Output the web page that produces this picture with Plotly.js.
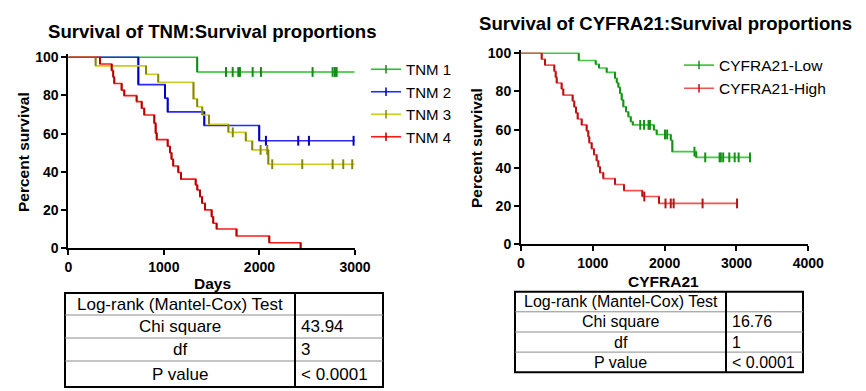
<!DOCTYPE html>
<html>
<head>
<meta charset="utf-8">
<script src="https://cdn.plot.ly/plotly-3.0.1.min.js"></script>
<style>html,body{margin:0;padding:0;background:#fff;}#chart{width:866px;height:391px;}</style>
</head>
<body>
<div id="chart"></div>
<script>
// ---------------- DATA ----------------
// Left chart: Survival of TNM (days, percent survival)
const tnm1Days = [0, 1349];
const tnm1Surv = [100, 92.3];
const tnm1CensorDays = [1650, 1720, 1779, 1796, 1929, 2016, 2556, 2766, 2790, 2808];
const tnm1CensorSurv = [92.3, 92.3, 92.3, 92.3, 92.3, 92.3, 92.3, 92.3, 92.3, 92.3];
const tnm1LastDay = 2995;

const tnm2Days = [0, 733, 1012, 1040, 1423, 1998];
const tnm2Surv = [100, 85.7, 78.6, 71.4, 64.3, 56.3];
const tnm2CensorDays = [2068, 2406, 2518, 2985];
const tnm2CensorSurv = [56.3, 56.3, 56.3, 56.3];
const tnm2LastDay = 2995;

const tnm3Days = [0, 286, 813, 941, 1310, 1349, 1402, 1472, 1675, 1857, 1925, 2093];
const tnm3Surv = [100, 95.5, 91.1, 86.9, 78.2, 74.1, 69.8, 64.9, 60.7, 56.2, 51.5, 44.0];
const tnm3CensorDays = [1721, 2012, 2082, 2134, 2448, 2766, 2877, 2971];
const tnm3CensorSurv = [60.7, 51.5, 51.5, 44.0, 44.0, 44.0, 44.0, 44.0];
const tnm3LastDay = 2995;

const tnm4Days = [0, 332, 454, 470, 481, 558, 586, 715, 768, 795, 900, 914, 925, 1040, 1064, 1080, 1098, 1151, 1179, 1333, 1350, 1378, 1400, 1430, 1500, 1517, 1552, 1760, 2103, 2431];
const tnm4Surv = [100, 96.5, 93.1, 89.7, 86.3, 82.8, 79.9, 76.8, 73.3, 69.8, 65.5, 60.3, 56.9, 53.4, 50.0, 46.6, 43.1, 39.7, 36.2, 33.1, 30.5, 27.0, 23.6, 20.1, 16.5, 13.1, 10.1, 6.4, 2.9, 0];
const tnm4CensorDays = [];
const tnm4CensorSurv = [];
const tnm4LastDay = 2431;

// Right chart: Survival of CYFRA21
const lowDays = [0, 804, 1040, 1086, 1193, 1309, 1333, 1356, 1379, 1402, 1425, 1462, 1495, 1528, 1556, 1850, 1889, 2085, 2107, 2440];
const lowSurv = [100, 96.2, 94.2, 92.3, 90.0, 86.9, 84.6, 82.2, 79.0, 75.6, 72.0, 69.4, 66.8, 64.2, 62.5, 59.8, 57.5, 54.5, 48.5, 45.5];
const lowCensorDays = [1660, 1713, 1776, 1795, 2005, 2035, 2415, 2565, 2765, 2782, 2815, 2900, 2975, 3030, 3188];
const lowCensorSurv = [62.5, 62.5, 62.5, 62.5, 57.5, 57.5, 48.5, 45.5, 45.5, 45.5, 45.5, 45.5, 45.5, 45.5, 45.5];
const lowLastDay = 3188;

const highDays = [0, 288, 334, 464, 483, 497, 566, 589, 719, 742, 766, 789, 845, 914, 937, 951, 984, 1016, 1053, 1077, 1100, 1146, 1309, 1434, 1690, 1921];
const highSurv = [100, 96.9, 93.8, 90.6, 87.5, 84.4, 81.3, 78.1, 75.0, 71.9, 68.8, 65.6, 62.5, 59.4, 56.3, 53.1, 50.0, 46.9, 43.8, 40.6, 37.5, 34.4, 31.3, 28.1, 25.0, 21.4];
const highCensorDays = [1717, 2012, 2085, 2125, 2528, 3008];
const highCensorSurv = [25.0, 21.4, 21.4, 21.4, 21.4, 21.4];
const highLastDay = 3008;

// Axis ticks
const leftXTicks = [0, 1000, 2000, 3000];
const rightXTicks = [0, 1000, 2000, 3000, 4000];
const yTicks = [0, 20, 40, 60, 80, 100];

// Text
const leftTitle = "Survival of TNM:Survival proportions";
const rightTitle = "Survival of CYFRA21:Survival proportions";
const leftXTitle = "Days";
const rightXTitle = "CYFRA21";
const yTitle = "Percent survival";
const tnmNames = ["TNM 1", "TNM 2", "TNM 3", "TNM 4"];
const cyfraNames = ["CYFRA21-Low", "CYFRA21-High"];
const statLabels = ["Log-rank (Mantel-Cox) Test", "Chi square", "df", "P value"];
const tnmStats = ["", "43.94", "3", "< 0.0001"];
const cyfraStats = ["", "16.76", "1", "< 0.0001"];

// ---------------- BUILD ----------------
const W = 866, H = 391;
const px = v => v / W;
const py = v => 1 - v / H;
const FONT = "Liberation Sans, Arial, Helvetica, sans-serif";

const traces = [];
function addGroup(name, days, surv, cDays, cSurv, lastDay, col, dark, xa, ya, leg) {
  const lx = days.concat([lastDay]);
  const ly = surv.concat([surv[surv.length - 1]]);
  traces.push({x: lx, y: ly, mode: 'lines', line: {shape: 'hv', color: col, width: 1.6},
    xaxis: xa, yaxis: ya, showlegend: false, hoverinfo: 'skip'});
  const rx = [], ry = [];
  for (let i = 1; i < days.length; i++) {
    rx.push(days[i], days[i], null);
    ry.push(surv[i - 1], surv[i], null);
  }
  traces.push({x: rx, y: ry, mode: 'lines', line: {color: dark, width: 2},
    xaxis: xa, yaxis: ya, showlegend: false, hoverinfo: 'skip', connectgaps: false});
  if (cDays.length) {
    traces.push({x: cDays, y: cSurv, mode: 'markers',
      marker: {symbol: 'line-ns', size: 7, color: dark, line: {color: dark, width: 2}},
      xaxis: xa, yaxis: ya, showlegend: false, hoverinfo: 'skip', cliponaxis: false});
  }
  traces.push({x: [null], y: [null], mode: 'lines+markers', name: name,
    line: {color: col, width: 1.6},
    marker: {symbol: 'line-ns', size: 6, color: dark, line: {color: dark, width: 1.5}},
    xaxis: xa, yaxis: ya, legend: leg, showlegend: true, hoverinfo: 'skip'});
}

addGroup(tnmNames[0], tnm1Days, tnm1Surv, tnm1CensorDays, tnm1CensorSurv, tnm1LastDay, '#2cbf2c', '#138a13', 'x', 'y', 'legend');
addGroup(tnmNames[1], tnm2Days, tnm2Surv, tnm2CensorDays, tnm2CensorSurv, tnm2LastDay, '#2a2aff', '#0000c0', 'x', 'y', 'legend');
addGroup(tnmNames[2], tnm3Days, tnm3Surv, tnm3CensorDays, tnm3CensorSurv, tnm3LastDay, '#cccc1e', '#86860f', 'x', 'y', 'legend');
addGroup(tnmNames[3], tnm4Days, tnm4Surv, tnm4CensorDays, tnm4CensorSurv, tnm4LastDay, '#ff1a1a', '#b00000', 'x', 'y', 'legend');
addGroup(cyfraNames[0], lowDays, lowSurv, lowCensorDays, lowCensorSurv, lowLastDay, '#44c944', '#178f17', 'x2', 'y2', 'legend2');
addGroup(cyfraNames[1], highDays, highSurv, highCensorDays, highCensorSurv, highLastDay, '#f25252', '#b31313', 'x2', 'y2', 'legend2');

function axisStyle(extra) {
  return Object.assign({
    showline: true, linecolor: '#000', linewidth: 2,
    ticks: 'outside', ticklen: 5, tickwidth: 2, tickcolor: '#000',
    showgrid: false, zeroline: false, fixedrange: true,
    tickfont: {family: FONT, size: 14, color: '#000', weight: 'bold'}
  }, extra);
}

const annotations = [];
function ann(text, x, y, size, bold, extra) {
  annotations.push(Object.assign({text: text, x: px(x), y: py(y), xref: 'paper', yref: 'paper',
    showarrow: false, xanchor: 'center', yanchor: 'middle',
    font: {family: FONT, size: size, color: '#000', weight: bold ? 'bold' : 'normal'}}, extra || {}));
}
ann(leftTitle, 212, 31, 18.6, true);
ann(rightTitle, 665, 23, 18.6, true);
ann(leftXTitle, 212, 283, 15.5, true);
ann(rightXTitle, 663, 281, 15.5, true);
ann(yTitle, 23, 152, 15.5, true, {textangle: -90});
ann(yTitle, 476, 148, 15.5, true, {textangle: -90});

const shapes = [];
function table(x0, x1, xd, rows, labels, values, fsize) {
  shapes.push({type: 'rect', xref: 'paper', yref: 'paper', x0: px(x0), x1: px(x1), y0: py(rows[0]), y1: py(rows[rows.length - 1]),
    line: {color: '#000', width: 2}, fillcolor: 'rgba(0,0,0,0)'});
  for (let i = 1; i < rows.length - 1; i++) {
    shapes.push({type: 'line', xref: 'paper', yref: 'paper', x0: px(x0), x1: px(x1), y0: py(rows[i]), y1: py(rows[i]),
      line: {color: '#8c8c8c', width: 1}});
  }
  shapes.push({type: 'line', xref: 'paper', yref: 'paper', x0: px(xd), x1: px(xd), y0: py(rows[0]), y1: py(rows[rows.length - 1]),
    line: {color: '#000', width: 2}});
  for (let i = 0; i < labels.length; i++) {
    const yc = (rows[i] + rows[i + 1]) / 2;
    ann(labels[i], (x0 + xd) / 2, yc, fsize, false);
    if (values[i]) ann(values[i], xd + 4, yc, fsize, false, {xanchor: 'left'});
  }
}
table(65, 383, 295, [293, 315, 338, 361, 387], statLabels, tnmStats, 17);
table(515, 803, 726, [291.7, 311.8, 332, 352.1, 372.3], statLabels, cyfraStats, 16);

const layout = {
  width: W, height: H,
  margin: {l: 0, r: 0, t: 0, b: 0},
  paper_bgcolor: '#fff', plot_bgcolor: '#fff',
  font: {family: FONT, color: '#000'},
  xaxis: axisStyle({domain: [px(68.3), px(355)], range: [0, 3000], tickvals: leftXTicks, anchor: 'y'}),
  yaxis: axisStyle({domain: [py(248.3), py(54.4)], range: [0, 101.5], tickvals: yTicks, anchor: 'x'}),
  xaxis2: axisStyle({domain: [px(521), px(808.3)], range: [0, 4000], tickvals: rightXTicks, anchor: 'y2'}),
  yaxis2: axisStyle({domain: [py(244.3), py(50.4)], range: [0, 101.5], tickvals: yTicks, anchor: 'x2'}),
  legend: {x: px(366), y: py(53), xanchor: 'left', yanchor: 'top', bgcolor: 'rgba(0,0,0,0)',
    font: {family: FONT, size: 15, color: '#000'}, traceorder: 'normal'},
  legend2: {x: px(679), y: py(48.5), xanchor: 'left', yanchor: 'top', bgcolor: 'rgba(0,0,0,0)',
    font: {family: FONT, size: 15.5, color: '#000'}, traceorder: 'normal'},
  annotations: annotations,
  shapes: shapes,
  showlegend: true
};

Plotly.newPlot('chart', traces, layout, {displayModeBar: false, staticPlot: true});
</script>
</body>
</html>
